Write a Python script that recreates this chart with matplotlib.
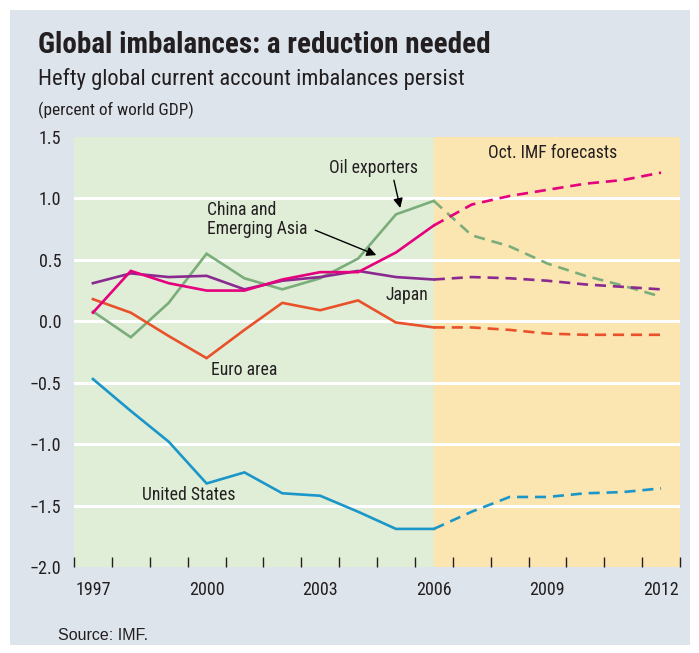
import numpy as np
import matplotlib.pyplot as plt
from matplotlib.patches import Rectangle

plt.rcParams['font.family'] = ['Roboto Condensed', 'DejaVu Sans']

# actual data 1997-2006
years_hist = [1997, 1998, 1999, 2000, 2001, 2002, 2003, 2004, 2005, 2006]
oil_hist = [0.08, -0.13, 0.15, 0.55, 0.35, 0.26, 0.35, 0.51, 0.87, 0.98]
asia_hist = [0.07, 0.41, 0.31, 0.25, 0.25, 0.34, 0.40, 0.40, 0.56, 0.78]
japan_hist = [0.31, 0.39, 0.36, 0.37, 0.26, 0.33, 0.36, 0.41, 0.36, 0.34]
euro_hist = [0.18, 0.07, -0.12, -0.30, -0.07, 0.15, 0.09, 0.17, -0.01, -0.05]
us_hist = [-0.47, -0.73, -0.98, -1.32, -1.23, -1.40, -1.42, -1.55, -1.69, -1.69]

# IMF forecasts 2006-2012
years_fc = [2006, 2007, 2008, 2009, 2010, 2011, 2012]
oil_fc = [0.98, 0.70, 0.61, 0.47, 0.37, 0.29, 0.20]
asia_fc = [0.78, 0.95, 1.02, 1.07, 1.12, 1.15, 1.21]
japan_fc = [0.34, 0.36, 0.35, 0.33, 0.30, 0.28, 0.26]
euro_fc = [-0.05, -0.05, -0.07, -0.10, -0.11, -0.11, -0.11]
us_fc = [-1.69, -1.55, -1.43, -1.43, -1.40, -1.39, -1.36]

xlabels = [1997, 2000, 2003, 2006, 2009, 2012]
yticks = [-2.0, -1.5, -1.0, -0.5, 0.0, 0.5, 1.0, 1.5]

c_oil = '#7aad7a'
c_asia = '#e5007d'
c_japan = '#8a2a90'
c_euro = '#e8512a'
c_us = '#1b96c9'
txt = '#231f20'

fig = plt.figure(figsize=(6.99, 6.53), dpi=100)
fig.patch.set_facecolor('white')
fig.patches.append(Rectangle((10/699, 8/653), 680/699, 635/653, transform=fig.transFigure,
                             facecolor='#dde4ec', edgecolor='none', zorder=-10))

ax = fig.add_axes([74/699, 86/653, 606/699, 430/653])
ax.set_xlim(1996.5, 2012.5)
ax.set_ylim(-2.0, 1.5)
ax.axvspan(1996.5, 2006, color='#e0eed8', zorder=0)
ax.axvspan(2006, 2012.5, color='#fbe5b1', zorder=0)
for y in [-1.5, -1.0, -0.5, 0.0, 0.5, 1.0]:
    ax.axhline(y, color='white', lw=2.2, zorder=1)
for s in ax.spines.values():
    s.set_visible(False)

series = [(oil_hist, oil_fc, c_oil), (japan_hist, japan_fc, c_japan),
          (euro_hist, euro_fc, c_euro), (asia_hist, asia_fc, c_asia),
          (us_hist, us_fc, c_us)]
for h, f, c in series:
    ax.plot(years_hist, h, color=c, lw=1.9, zorder=3, solid_joinstyle='miter')
    ax.plot(years_fc, f, color=c, lw=1.9, zorder=3, dashes=(4.2, 2.6))

ax.set_xticks(xlabels)
ax.set_xticklabels([str(x) for x in xlabels])
ax.set_xticks(np.arange(1996.5, 2012.6, 1), minor=True)
ax.tick_params(axis='x', which='major', length=0, pad=10, labelsize=13, labelcolor=txt)
ax.tick_params(axis='x', which='minor', direction='in', length=7, width=1, color=txt)
ax.set_yticks(yticks)
ax.set_yticklabels(['\u2212%.1f' % abs(v) if v < 0 else '%.1f' % v for v in yticks])
ax.tick_params(axis='y', length=0, pad=9, labelsize=13, labelcolor=txt)

# labels and arrows
fs = 12.7
ax.text(2004.4, 1.25, 'Oil exporters', fontsize=fs, color=txt, ha='center', va='center')
ax.annotate('', xy=(2005.13, 0.90), xytext=(2004.93, 1.17),
            arrowprops=dict(arrowstyle='-|>', color='black', lw=1, mutation_scale=14))
ax.text(2000.0, 0.83, 'China and\nEmerging Asia', fontsize=fs, color=txt, ha='left', va='center',
        linespacing=1.05)
ax.annotate('', xy=(2004.55, 0.53), xytext=(2002.8, 0.75),
            arrowprops=dict(arrowstyle='-|>', color='black', lw=1, mutation_scale=14))
ax.text(2004.72, 0.21, 'Japan', fontsize=fs, color=txt, ha='left', va='center')
ax.text(2000.12, -0.40, 'Euro area', fontsize=fs, color=txt, ha='left', va='center')
ax.text(1998.3, -1.41, 'United States', fontsize=fs, color=txt, ha='left', va='center')
ax.text(2009.15, 1.37, 'Oct. IMF forecasts', fontsize=fs, color=txt, ha='center', va='center')

fig.text(38/699, 1 - 45/653, 'Global imbalances: a reduction needed', fontsize=21,
         fontweight='bold', color=txt, ha='left', va='center')
fig.text(38/699, 1 - 79/653, 'Hefty global current account imbalances persist', fontsize=16.2,
         color=txt, ha='left', va='center')
fig.text(38/699, 1 - 110/653, '(percent of world GDP)', fontsize=12.4, color=txt,
         ha='left', va='center')
fig.text(58/699, 1 - 636/653, 'Source: IMF.', fontsize=11.5, color=txt, ha='left', va='center',
         family=['Liberation Sans', 'DejaVu Sans'])

fig.savefig('out.png', dpi=100, facecolor=fig.get_facecolor())
